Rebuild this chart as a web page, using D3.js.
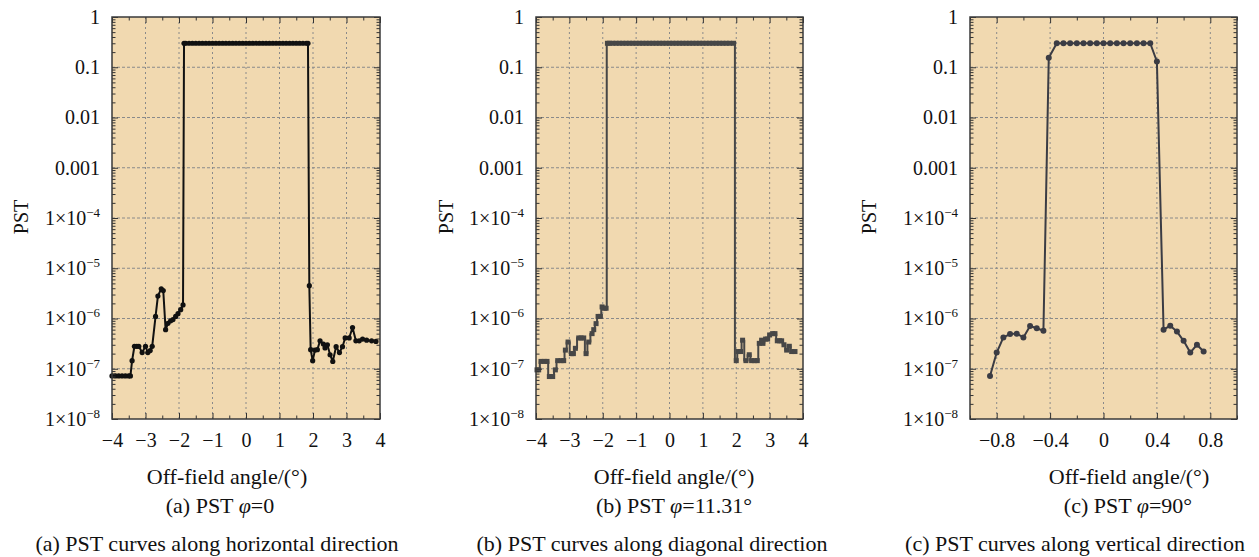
<!DOCTYPE html>
<html>
<head>
<meta charset="utf-8">
<script src="https://cdn.jsdelivr.net/npm/d3@7"></script>
<style>
  body { margin: 0; background: #fff; }
  svg text { font-family: "Liberation Serif", "Times New Roman", serif; fill: #111; }
</style>
</head>
<body>
<svg id="chart" width="1259" height="557"></svg>
<script>
// (a) horizontal direction, phi = 0
const aAngle = [-4.0, -3.9, -3.8, -3.7, -3.6, -3.5, -3.45, -3.4, -3.33, -3.26, -3.2, -3.1, -3.0, -2.93, -2.86, -2.8,
  -2.7, -2.63, -2.53, -2.47, -2.4, -2.33, -2.25, -2.18, -2.1, -2.03, -1.95, -1.88,
  -1.85, -1.8, -1.7, -1.6, -1.5, -1.4, -1.3, -1.2, -1.1, -1.0, -0.9, -0.8, -0.7, -0.6, -0.5, -0.4, -0.3, -0.2, -0.1,
  0.0, 0.1, 0.2, 0.3, 0.4, 0.5, 0.6, 0.7, 0.8, 0.9, 1.0, 1.1, 1.2, 1.3, 1.4, 1.5, 1.6, 1.7, 1.8, 1.85,
  1.89, 1.93, 1.99, 2.06, 2.13, 2.21, 2.31, 2.36, 2.43, 2.51, 2.59, 2.69, 2.79, 2.88, 2.96, 3.08, 3.18, 3.28,
  3.38, 3.48, 3.6, 3.75, 3.88];
const aPst = [7.2e-8, 7.2e-8, 7.2e-8, 7.2e-8, 7.2e-8, 7.2e-8, 7.2e-8, 1.45e-7, 2.8e-7, 2.8e-7, 2.8e-7, 2.1e-7, 2.8e-7, 2.1e-7, 2.3e-7, 2.8e-7,
  1.1e-6, 2.8e-6, 3.9e-6, 3.6e-6, 6e-7, 8e-7, 9e-7, 9.5e-7, 1.1e-6, 1.25e-6, 1.5e-6, 1.86e-6,
  0.3, 0.3, 0.3, 0.3, 0.3, 0.3, 0.3, 0.3, 0.3, 0.3, 0.3, 0.3, 0.3, 0.3, 0.3, 0.3, 0.3, 0.3, 0.3,
  0.3, 0.3, 0.3, 0.3, 0.3, 0.3, 0.3, 0.3, 0.3, 0.3, 0.3, 0.3, 0.3, 0.3, 0.3, 0.3, 0.3, 0.3, 0.3, 0.3,
  4.5e-6, 2.4e-7, 1.45e-7, 2.35e-7, 2.4e-7, 3.6e-7, 3.1e-7, 2.6e-7, 3e-7, 1.9e-7, 1.4e-7, 2.75e-7, 2.1e-7, 2.75e-7, 4.1e-7, 4.1e-7, 6.6e-7, 3.6e-7,
  3.6e-7, 3.9e-7, 3.7e-7, 3.6e-7, 3.5e-7];

// (b) diagonal direction, phi = 11.31
const bAngle = [-3.97, -3.92, -3.85, -3.75, -3.67, -3.6, -3.5, -3.42, -3.35, -3.25, -3.17, -3.12, -3.04, -2.94, -2.88, -2.82,
  -2.72, -2.65, -2.57, -2.5, -2.42, -2.32, -2.27, -2.2, -2.14, -2.07, -2.02, -1.95, -1.9,
  -1.86, -1.8, -1.7, -1.6, -1.5, -1.4, -1.3, -1.2, -1.1, -1.0, -0.9, -0.8, -0.7, -0.6, -0.5, -0.4, -0.3, -0.2, -0.1,
  0.0, 0.1, 0.2, 0.3, 0.4, 0.5, 0.6, 0.7, 0.8, 0.9, 1.0, 1.1, 1.2, 1.3, 1.4, 1.5, 1.6, 1.7, 1.8, 1.92,
  2.0, 2.06, 2.13, 2.19, 2.29, 2.39, 2.46, 2.55, 2.63, 2.69, 2.76, 2.8, 2.88, 2.94, 3.0, 3.09, 3.16, 3.23, 3.3,
  3.36, 3.43, 3.51, 3.59, 3.66, 3.76];
const bPst = [9.5e-8, 9.5e-8, 1.4e-7, 1.4e-7, 1.4e-7, 7e-8, 7e-8, 9.5e-8, 1.45e-7, 1.45e-7, 1.45e-7, 2.35e-7, 3.4e-7, 2e-7, 2e-7, 2.55e-7,
  4.1e-7, 4.1e-7, 4.1e-7, 2e-7, 3.4e-7, 5e-7, 6e-7, 7.9e-7, 1.1e-6, 1.1e-6, 1.7e-6, 1.6e-6, 1.6e-6,
  0.3, 0.3, 0.3, 0.3, 0.3, 0.3, 0.3, 0.3, 0.3, 0.3, 0.3, 0.3, 0.3, 0.3, 0.3, 0.3, 0.3, 0.3, 0.3,
  0.3, 0.3, 0.3, 0.3, 0.3, 0.3, 0.3, 0.3, 0.3, 0.3, 0.3, 0.3, 0.3, 0.3, 0.3, 0.3, 0.3, 0.3, 0.3, 0.3,
  1.45e-7, 2.2e-7, 2.2e-7, 3.7e-7, 1.45e-7, 1.9e-7, 1.45e-7, 1.45e-7, 1.45e-7, 3.2e-7, 3.7e-7, 3.2e-7, 3.9e-7, 3.9e-7, 4.7e-7, 5e-7, 5e-7, 3.6e-7, 3.6e-7,
  3.6e-7, 3e-7, 2.35e-7, 2.8e-7, 2.2e-7, 2.2e-7];

// (c) vertical direction, phi = 90
const cAngle = [-0.85, -0.8, -0.75, -0.7, -0.65, -0.6, -0.55, -0.5, -0.45, -0.41,
  -0.35, -0.3, -0.25, -0.2, -0.15, -0.1, -0.05, 0.0, 0.05, 0.1, 0.15, 0.2, 0.25, 0.3, 0.35,
  0.4, 0.45, 0.5, 0.55, 0.6, 0.65, 0.7, 0.75];
const cPst = [7.2e-8, 2.1e-7, 4.2e-7, 4.9e-7, 5e-7, 4.2e-7, 7.1e-7, 6.4e-7, 5.7e-7, 0.155,
  0.3, 0.3, 0.3, 0.3, 0.3, 0.3, 0.3, 0.3, 0.3, 0.3, 0.3, 0.3, 0.3, 0.3, 0.3,
  0.13, 6e-7, 7.2e-7, 5.5e-7, 3.6e-7, 2.1e-7, 3e-7, 2.2e-7];

const pstTicks = [1, 0.1, 0.01, 0.001, 1e-4, 1e-5, 1e-6, 1e-7, 1e-8];
const wideTicks = [-4, -3, -2, -1, 0, 1, 2, 3, 4];
const wideMinor = [-3.5, -2.5, -1.5, -0.5, 0.5, 1.5, 2.5, 3.5];
const narrowTicks = [-0.8, -0.4, 0, 0.4, 0.8];
const narrowMinor = [-1, -0.6, -0.2, 0.2, 0.6, 1];

const xTitle = 'Off-field angle/(°)';
const subTitles = [['(a) PST ', '=0'], ['(b) PST ', '=11.31°'], ['(c) PST ', '=90°']];
const captions = ['(a) PST curves along horizontal direction', '(b) PST curves along diagonal direction', '(c) PST curves along vertical direction'];

const svg = d3.select('#chart');
const [plotTop, plotBottom] = [17, 419];

const panels = [
  { x0: 112, x1: 380, domain: [-4, 4], ticks: wideTicks, minor: wideMinor, angle: aAngle, pst: aPst,
    color: '#111', marker: 'circle', size: 2.6, curve: d3.curveLinear, pstX: 21, titleX: 227, subX: 220, capX: 217 },
  { x0: 536, x1: 803, domain: [-4, 4], ticks: wideTicks, minor: wideMinor, angle: bAngle, pst: bPst,
    color: '#474747', marker: 'square', size: 5, curve: d3.curveStep, pstX: 446, titleX: 674, subX: 674, capX: 652 },
  { x0: 970, x1: 1237, domain: [-1, 1], ticks: narrowTicks, minor: narrowMinor, angle: cAngle, pst: cPst,
    color: '#3b3c44', marker: 'circle', size: 3, curve: d3.curveLinear, pstX: 869, titleX: 1129, subX: 1128, capX: 1075 },
];

const minus = (s) => s.replace('-', '\u2212');

const drawPanel = (p, i) => {
  const x = d3.scaleLinear().domain(p.domain).range([p.x0, p.x1]);
  const y = d3.scaleLog().domain([1e-8, 1]).range([plotBottom, plotTop]);
  const g = svg.append('g');

  g.append('rect')
    .attr('x', p.x0).attr('y', plotTop)
    .attr('width', p.x1 - p.x0).attr('height', plotBottom - plotTop)
    .attr('fill', '#f1d9b0');

  // grid
  g.selectAll('.hgrid')
    .data(pstTicks.slice(1, -1))
    .enter().append('line')
    .attr('x1', p.x0).attr('x2', p.x1)
    .attr('y1', (d) => y(d)).attr('y2', (d) => y(d))
    .attr('stroke', '#8a8a8a').attr('stroke-width', 1).attr('stroke-dasharray', '3,2');
  g.selectAll('.vgrid')
    .data(p.ticks.filter((d) => d > p.domain[0] && d < p.domain[1]))
    .enter().append('line')
    .attr('y1', plotTop).attr('y2', plotBottom)
    .attr('x1', (d) => x(d)).attr('x2', (d) => x(d))
    .attr('stroke', '#8a8a8a').attr('stroke-width', 1).attr('stroke-dasharray', '2,3');

  // curve
  const line = d3.line().x((d) => x(d[0])).y((d) => y(d[1])).curve(p.curve);
  const pts = p.angle.map((a, k) => [a, p.pst[k]]);
  g.append('path')
    .datum(pts)
    .attr('d', line)
    .attr('fill', 'none')
    .attr('stroke', p.color)
    .attr('stroke-width', 2)
    .attr('stroke-linejoin', 'round');
  if (p.marker === 'circle') {
    g.selectAll('.mk').data(pts).enter().append('circle')
      .attr('cx', (d) => x(d[0])).attr('cy', (d) => y(d[1]))
      .attr('r', p.size).attr('fill', p.color);
  } else {
    g.selectAll('.mk').data(pts).enter().append('rect')
      .attr('x', (d) => x(d[0]) - p.size / 2).attr('y', (d) => y(d[1]) - p.size / 2)
      .attr('width', p.size).attr('height', p.size).attr('fill', p.color);
  }

  // axes (ticks pointing inward)
  const fmtX = (d) => minus(String(d));
  const axisStyle = (sel) => sel.attr('color', '#333').attr('font-size', 20)
    .attr('font-family', '"Liberation Serif", "Times New Roman", serif');

  g.append('g').attr('transform', `translate(0,${plotBottom})`)
    .call(d3.axisBottom(x).tickValues(p.ticks).tickSizeInner(-6).tickSizeOuter(0).tickPadding(14).tickFormat(fmtX))
    .call(axisStyle);
  g.append('g').attr('transform', `translate(0,${plotBottom})`)
    .call(d3.axisBottom(x).tickValues(p.minor).tickSizeInner(-3.5).tickSizeOuter(0).tickFormat(''))
    .call(axisStyle);
  g.append('g').attr('transform', `translate(0,${plotTop})`)
    .call(d3.axisTop(x).tickValues(p.ticks).tickSizeInner(-6).tickSizeOuter(0).tickFormat(''))
    .call(axisStyle);
  g.append('g').attr('transform', `translate(0,${plotTop})`)
    .call(d3.axisTop(x).tickValues(p.minor).tickSizeInner(-3.5).tickSizeOuter(0).tickFormat(''))
    .call(axisStyle);

  const yMinor = y.ticks().filter((d) => !pstTicks.some((t) => Math.abs(d / t - 1) < 1e-6));
  const yl = g.append('g').attr('transform', `translate(${p.x0},0)`)
    .call(d3.axisLeft(y).tickValues(pstTicks).tickSizeInner(-6).tickSizeOuter(0).tickPadding(12).tickFormat(''))
    .call(axisStyle);
  g.append('g').attr('transform', `translate(${p.x0},0)`)
    .call(d3.axisLeft(y).tickValues(yMinor).tickSizeInner(-3.5).tickSizeOuter(0).tickFormat(''))
    .call(axisStyle);
  g.append('g').attr('transform', `translate(${p.x1},0)`)
    .call(d3.axisRight(y).tickValues(pstTicks).tickSizeInner(-6).tickSizeOuter(0).tickFormat(''))
    .call(axisStyle);
  g.append('g').attr('transform', `translate(${p.x1},0)`)
    .call(d3.axisRight(y).tickValues(yMinor).tickSizeInner(-3.5).tickSizeOuter(0).tickFormat(''))
    .call(axisStyle);
  g.selectAll('.domain').remove();

  yl.selectAll('.tick text').each(function (d) {
    const t = d3.select(this);
    const e = Math.round(Math.log10(d));
    if (e >= -3) {
      t.text(String(d));
    } else {
      t.append('tspan').text('1×10');
      t.append('tspan').attr('font-size', 13).attr('dy', -8).text('\u2212' + Math.abs(e));
    }
  });

  g.append('rect')
    .attr('x', p.x0).attr('y', plotTop)
    .attr('width', p.x1 - p.x0).attr('height', plotBottom - plotTop)
    .attr('fill', 'none').attr('stroke', '#3a3a3a').attr('stroke-width', 1.5);

  // labels
  g.append('text')
    .attr('transform', `translate(${p.pstX + 7},217) rotate(-90)`)
    .attr('text-anchor', 'middle').attr('font-size', 20)
    .text('PST');
  g.append('text')
    .attr('x', p.titleX).attr('y', 484)
    .attr('text-anchor', 'middle').attr('font-size', 22)
    .text(xTitle);
  const sub = g.append('text')
    .attr('x', p.subX).attr('y', 513)
    .attr('text-anchor', 'middle').attr('font-size', 22);
  sub.append('tspan').text(subTitles[i][0]);
  sub.append('tspan').attr('font-style', 'italic').text('φ');
  sub.append('tspan').text(subTitles[i][1]);
  g.append('text')
    .attr('x', p.capX).attr('y', 551)
    .attr('text-anchor', 'middle').attr('font-size', 22)
    .text(captions[i]);
};

panels.forEach(drawPanel);
</script>
</body>
</html>
